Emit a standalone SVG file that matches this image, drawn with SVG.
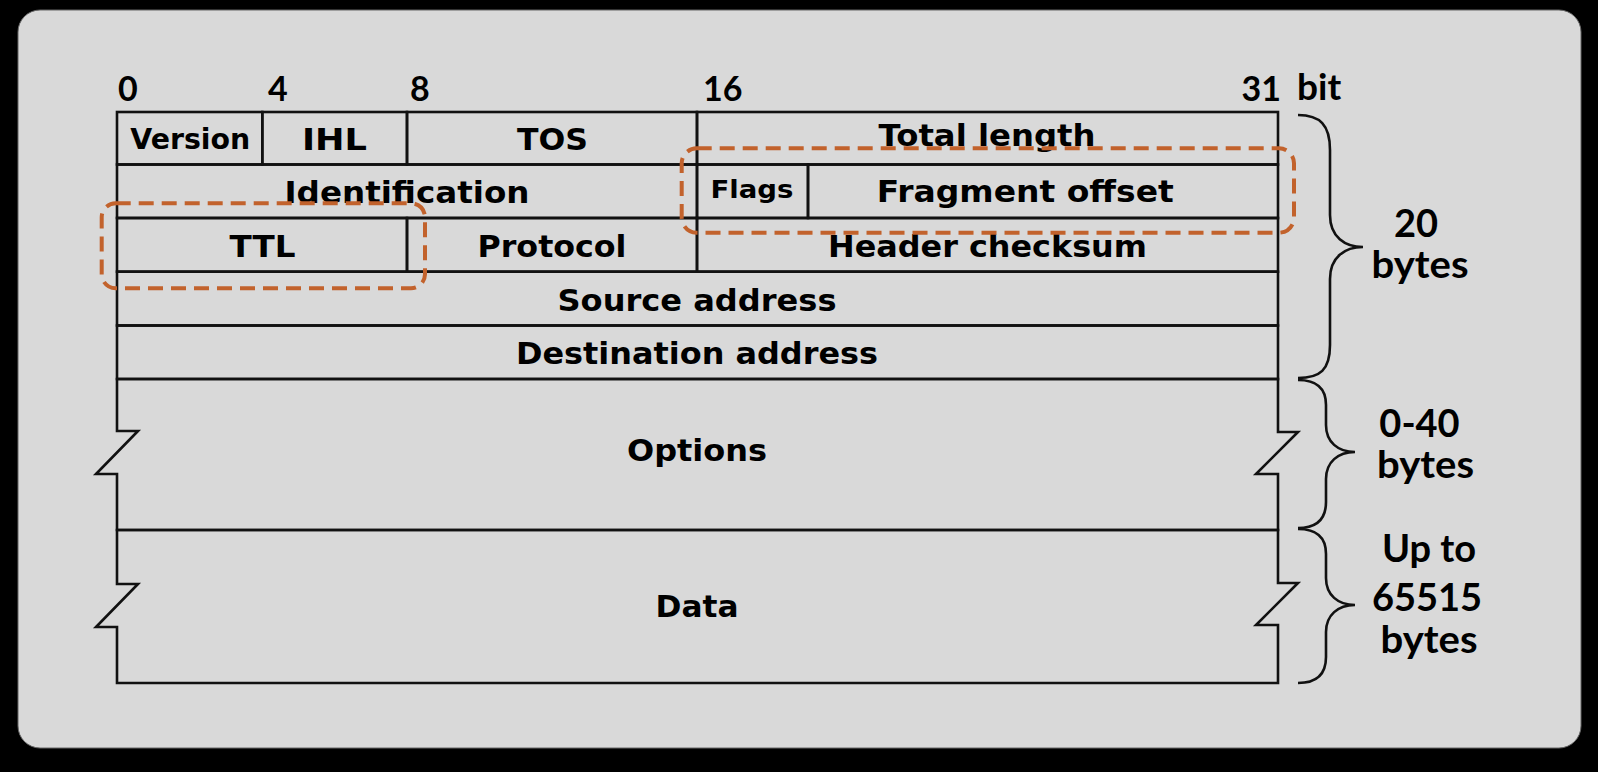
<svg xmlns="http://www.w3.org/2000/svg" width="1598" height="772" viewBox="0 0 1598 772">
<style>
.cell{fill:none;stroke:#111;stroke-width:2.6;stroke-linejoin:miter}
.lbl{font-family:"DejaVu Sans","Verdana",sans-serif;font-weight:bold;font-size:30px;fill:#000;text-anchor:middle}
.num{font-family:Lato,"Liberation Sans",sans-serif;font-weight:bold;font-size:34px;fill:#000}
.side{font-family:Lato,"Liberation Sans",sans-serif;font-weight:bold;font-size:38px;fill:#000;text-anchor:middle}
.hl{fill:none;stroke:#C2622C;stroke-width:4;stroke-dasharray:15 8}
.brace{fill:none;stroke:#111;stroke-width:2.6}
</style>
<rect x="0" y="0" width="1598" height="772" fill="#000"/>
<rect x="18" y="10" width="1563" height="738" rx="22" fill="#D9D9D9" stroke="#666" stroke-width="1"/>

<g id="bit-scale">
<text class="num" x="118" y="101">0</text>
<text class="num" x="268" y="101">4</text>
<text class="num" x="410" y="101">8</text>
<text class="num" x="703" y="101">16</text>
<text class="num" x="1281" y="101" text-anchor="end">31</text>
<text class="num" x="1297" y="100" style="font-size:37px">bit</text>
</g>

<g id="version"><rect class="cell" x="117" y="112" width="145.3" height="52.5"/><text class="lbl" x="190.3" y="148.5" style="font-size:27.5px" textLength="120" lengthAdjust="spacingAndGlyphs">Version</text></g>
<g id="ihl"><rect class="cell" x="262.3" y="112" width="144.7" height="52.5"/><text class="lbl" x="334.5" y="150" textLength="65" lengthAdjust="spacingAndGlyphs">IHL</text></g>
<g id="tos"><rect class="cell" x="407" y="112" width="290" height="52.5"/><text class="lbl" x="552.5" y="150" textLength="71" lengthAdjust="spacingAndGlyphs">TOS</text></g>
<g id="total-length"><rect class="cell" x="697" y="112" width="581" height="52.5"/><text class="lbl" x="987" y="146" textLength="217" lengthAdjust="spacingAndGlyphs">Total length</text></g>

<g id="identification"><rect class="cell" x="117" y="164.5" width="580" height="53.5"/><text class="lbl" x="407" y="202.7" textLength="245" lengthAdjust="spacingAndGlyphs">Identification</text></g>
<g id="flags"><rect class="cell" x="697" y="164.5" width="111" height="53.5"/><text class="lbl" x="752" y="198.3" style="font-size:25.5px" textLength="83" lengthAdjust="spacingAndGlyphs">Flags</text></g>
<g id="fragment-offset"><rect class="cell" x="808" y="164.5" width="470" height="53.5"/><text class="lbl" x="1025.3" y="201.7" textLength="297" lengthAdjust="spacingAndGlyphs">Fragment offset</text></g>

<g id="ttl"><rect class="cell" x="117" y="218" width="290" height="53.7"/><text class="lbl" x="262.5" y="256.7" textLength="66" lengthAdjust="spacingAndGlyphs">TTL</text></g>
<g id="protocol"><rect class="cell" x="407" y="218" width="290" height="53.7"/><text class="lbl" x="552" y="257" textLength="149" lengthAdjust="spacingAndGlyphs">Protocol</text></g>
<g id="header-checksum"><rect class="cell" x="697" y="218" width="581" height="53.7"/><text class="lbl" x="987.5" y="256.7" textLength="319" lengthAdjust="spacingAndGlyphs">Header checksum</text></g>

<g id="source-address"><rect class="cell" x="117" y="271.7" width="1161" height="53.8"/><text class="lbl" x="697" y="310.7" textLength="279" lengthAdjust="spacingAndGlyphs">Source address</text></g>
<g id="destination-address"><rect class="cell" x="117" y="325.5" width="1161" height="53.5"/><text class="lbl" x="697" y="364.3" textLength="362" lengthAdjust="spacingAndGlyphs">Destination address</text></g>

<g id="options"><path class="cell" d="M117,379 H1278 V432 H1298 L1256,474 H1278 V530 H117 V474 H96 L138,431 H117 Z"/><text class="lbl" x="697" y="461" textLength="140" lengthAdjust="spacingAndGlyphs">Options</text></g>
<g id="data"><path class="cell" d="M117,530 H1278 V583 H1298 L1256,625 H1278 V683 H117 V627 H96 L138,584 H117 Z"/><text class="lbl" x="697" y="617.3" textLength="83" lengthAdjust="spacingAndGlyphs">Data</text></g>

<g id="highlight-ttl"><rect class="hl" x="101.7" y="203.3" width="323.3" height="85" rx="14"/></g>
<g id="highlight-fragment"><rect class="hl" x="681.7" y="148.3" width="612.3" height="84.4" rx="15"/></g>

<g id="connectors">
<path class="brace" d="M1298,115 C1320,115 1330,125 1330,150 L1330,215 C1330,237 1345,247 1363,247 C1345,247 1330,257 1330,279 L1330,345 C1330,370 1320,378 1298,378"/>
<path class="brace" d="M1298,380 C1316,380 1326,388 1326,405 L1326,425 C1326,442 1338,452 1355,452 C1338,452 1326,462 1326,479 L1326,502 C1326,520 1316,528 1298,528"/>
<path class="brace" d="M1298,529 C1316,529 1326,537 1326,554 L1326,578 C1326,595 1338,605 1355,605 C1338,605 1326,615 1326,632 L1326,657 C1326,675 1316,683 1298,683"/>
</g>

<g id="label-20-bytes">
<text class="side" x="1416" y="236.7">20</text>
<text class="side" x="1420" y="278.3" textLength="97" lengthAdjust="spacingAndGlyphs">bytes</text>
</g>
<g id="label-0-40-bytes">
<text class="side" x="1419.5" y="437.3">0-40</text>
<text class="side" x="1425.5" y="478" textLength="97" lengthAdjust="spacingAndGlyphs">bytes</text>
</g>
<g id="label-up-to">
<text class="side" x="1429" y="561.7">Up to</text>
<text class="side" x="1427" y="611">65515</text>
<text class="side" x="1429" y="653.3" textLength="97" lengthAdjust="spacingAndGlyphs">bytes</text>
</g>
</svg>
